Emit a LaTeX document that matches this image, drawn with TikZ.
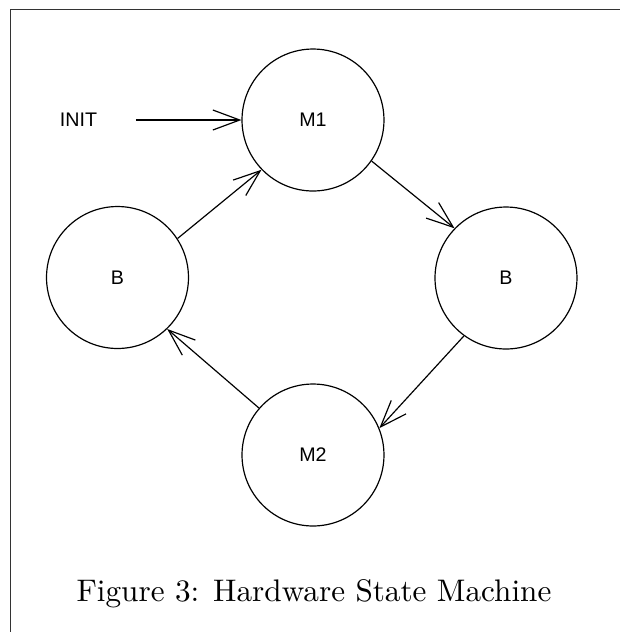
\documentclass[tikz,border=0pt]{standalone}
\usepackage{fontspec}
\newfontfamily\arialf{Liberation Sans}
\usetikzlibrary{arrows.meta}
\begin{document}
\begin{tikzpicture}[x=0.3205pt,y=-0.3205pt,
  state/.style={circle,draw,line width=0.38pt,minimum size=45.5pt,inner sep=0pt,
    font=\arialf\fontsize{6.3}{7.5}\selectfont},
  lbl/.style={inner sep=0pt,font=\arialf\fontsize{6.3}{7.5}\selectfont},
  tr/.style={line width=0.38pt,-{Straight Barb[length=8.6pt,width=6.4pt,line width=0.38pt]}},
  frame/.style={line width=0.45pt,black!80}]
\useasboundingbox (0,0) rectangle (619,632);
\coordinate (ftop) at (640,9.5);
\coordinate (fcorner) at (10.5,9.5);
\coordinate (fbot) at (10.5,650);
\draw[frame] (ftop) -- (fcorner) -- (fbot);
\node[state] (M1) at (313,120) {M1};
\node[state] (B1) at (117.5,277.5) {B};
\node[state] (B2) at (506,278) {B};
\node[state] (M2) at (313,455) {M2};
\node[lbl] (init) at (78.5,120) {INIT};
\coordinate (istart) at (136,120);
\draw[tr] (istart) -- (M1.west);
\draw[tr] (B1.33.6) -- (M1.224);
\draw[tr] (M1.325) -- (B2.136);
\draw[tr] (B2.234.5) -- (M2.22);
\draw[tr] (M2.139) -- (B1.314.5);
\node[anchor=base,inner sep=0pt,font=\fontsize{10}{12}\selectfont] (cap) at (314,601) {Figure 3: Hardware State Machine};
\end{tikzpicture}
\end{document}
